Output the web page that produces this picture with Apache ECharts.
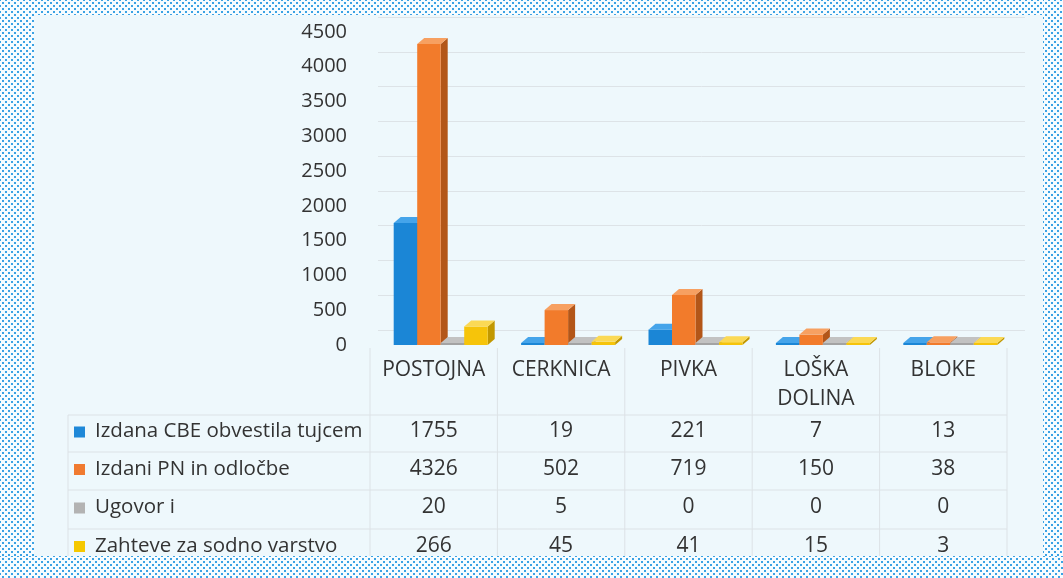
<!DOCTYPE html>
<html>
<head>
<meta charset="utf-8">
<script src="https://cdn.jsdelivr.net/npm/echarts@6/dist/echarts.min.js"></script>
<style>
  html, body { margin:0; padding:0; background:#fff; }
  #wrap { position:relative; width:1063px; height:578px; background:#eef8fc; overflow:hidden; }
  #main { position:absolute; left:0; top:0; width:1063px; height:578px; }
  .dots { position:absolute; pointer-events:none; background-color:#f6fcff;
    background-image: radial-gradient(circle, #3aa2e4 0.8px, transparent 1.2px),
                      radial-gradient(circle, #3aa2e4 0.8px, transparent 1.2px);
    background-size: 6px 6px; background-position: 0 0, 3px 3px; }
</style>
</head>
<body>
<div id="wrap">
  <div id="main"></div>
  <div class="dots" style="left:0;top:0;width:1063px;height:15px"></div>
  <div class="dots" style="left:0;top:0;width:34px;height:578px"></div>
  <div class="dots" style="left:1043px;top:0;width:20px;height:578px"></div>
  <div class="dots" style="left:0;top:556px;width:1063px;height:22px"></div>
</div>
<script>
var categories = ['POSTOJNA', 'CERKNICA', 'PIVKA', 'LOŠKA\nDOLINA', 'BLOKE'];
var seriesNames = ['Izdana CBE obvestila tujcem', 'Izdani PN in odločbe', 'Ugovor i', 'Zahteve za sodno varstvo'];
var cbe = [1755, 19, 221, 7, 13];
var pn = [4326, 502, 719, 150, 38];
var ugovori = [20, 5, 0, 0, 0];
var zahteve = [266, 45, 41, 15, 3];
var yTicks = [0, 500, 1000, 1500, 2000, 2500, 3000, 3500, 4000, 4500];

var allValues = [cbe, pn, ugovori, zahteve];
// front, top, side
var shades = [
  ['#1b86d6', '#45a4ea', '#135f9c'],
  ['#f27b2b', '#f7a061', '#b35618'],
  ['#a3a3a3', '#c2c2c2', '#777777'],
  ['#f6c40a', '#fbd955', '#c29800']
];
var legendColors = ['#1e88d8', '#f07a30', '#b3b3b3', '#f5c800'];

var gLeft = 370, gWidth = 637, gTop = 32, gBottom = 345;
var barW = 23.5, shift = 7, dx = 7, dy = -6;
var font = 'Open Sans';

function makeRender(s) {
  return function (params, api) {
    var base = api.coord([api.value(0), 0]);
    var top = api.coord([api.value(0), api.value(1)]);
    var x0 = base[0] - 2 * barW + s * barW + shift;
    var yb = base[1];
    var yt = Math.min(top[1], yb - 2);
    var c = shades[s];
    return {
      type: 'group',
      children: [
        { type: 'polygon', shape: { points: [[x0 + barW, yt], [x0 + barW + dx, yt + dy], [x0 + barW + dx, yb + dy], [x0 + barW, yb]] }, style: { fill: c[2] } },
        { type: 'rect', shape: { x: x0, y: yt, width: barW, height: yb - yt }, style: { fill: c[0] } },
        { type: 'polygon', shape: { points: [[x0, yt], [x0 + barW, yt], [x0 + barW + dx, yt + dy], [x0 + dx, yt + dy]] }, style: { fill: c[1] } }
      ]
    };
  };
}

var series = allValues.map(function (vals, s) {
  return {
    type: 'custom',
    name: seriesNames[s],
    xAxisIndex: 0, yAxisIndex: 0,
    renderItem: makeRender(s),
    encode: { x: 0, y: 1 },
    data: vals.map(function (v, i) { return [i, v]; }),
    z: 3 + s
  };
});

// table under the chart
var graphic = [];
var lineColor = '#dce2e6';
var colW = gWidth / categories.length;
var tableLeft = 68, tableRight = gLeft + gWidth;
var rowTops = [415, 452, 490, 529, 567];
for (var r = 0; r < 4; r++) {
  graphic.push({ type: 'line', shape: { x1: tableLeft, y1: rowTops[r], x2: tableRight, y2: rowTops[r] }, style: { stroke: lineColor, lineWidth: 1 } });
}
graphic.push({ type: 'line', shape: { x1: tableLeft, y1: rowTops[0], x2: tableLeft, y2: 578 }, style: { stroke: lineColor } });
for (var c = 0; c <= categories.length; c++) {
  var vx = gLeft + c * colW;
  graphic.push({ type: 'line', shape: { x1: vx, y1: 348, x2: vx, y2: 578 }, style: { stroke: lineColor } });
}
for (var r = 0; r < 4; r++) {
  var cy = (rowTops[r] + rowTops[r + 1]) / 2 - 2;
  graphic.push({ type: 'rect', shape: { x: 74, y: cy - 5, width: 11, height: 11 }, style: { fill: legendColors[r] } });
  graphic.push({ type: 'text', x: 95, y: cy, style: { text: seriesNames[r], fontSize: 20.5, fontFamily: font, fill: '#333', verticalAlign: 'middle' } });
  for (var c = 0; c < categories.length; c++) {
    graphic.push({ type: 'text', x: gLeft + (c + 0.5) * colW, y: cy, style: { text: String(allValues[r][c]), fontSize: 21, fontFamily: font, fill: '#333', align: 'center', verticalAlign: 'middle' } });
  }
}

var chart = echarts.init(document.getElementById('main'));
chart.setOption({
  animation: false,
  backgroundColor: 'transparent',
  grid: [
    { left: gLeft, top: gTop, width: gWidth, height: gBottom - gTop },
    { left: gLeft + 8, top: gTop - 15, width: gWidth + 10, height: gBottom - gTop }
  ],
  xAxis: [
    { type: 'category', gridIndex: 0, data: categories,
      axisLine: { show: false }, axisTick: { show: false },
      axisLabel: { fontSize: 21, fontFamily: font, color: '#333', margin: 11, lineHeight: 29, interval: 0 } },
    { type: 'category', gridIndex: 1, data: categories, show: false }
  ],
  yAxis: [
    { type: 'value', gridIndex: 0, min: yTicks[0], max: yTicks[yTicks.length - 1], interval: 500,
      axisLine: { show: false }, axisTick: { show: false }, splitLine: { show: false },
      axisLabel: { fontSize: 20, fontFamily: font, color: '#333', margin: 23, formatter: function (v) { return String(v); } } },
    { type: 'value', gridIndex: 1, min: yTicks[0], max: yTicks[yTicks.length - 1], interval: 500,
      axisLine: { show: false }, axisTick: { show: false }, axisLabel: { show: false },
      splitLine: { show: true, lineStyle: { color: '#dde3e7', width: 1 } } }
  ],
  series: series,
  graphic: graphic
});
</script>
</body>
</html>
